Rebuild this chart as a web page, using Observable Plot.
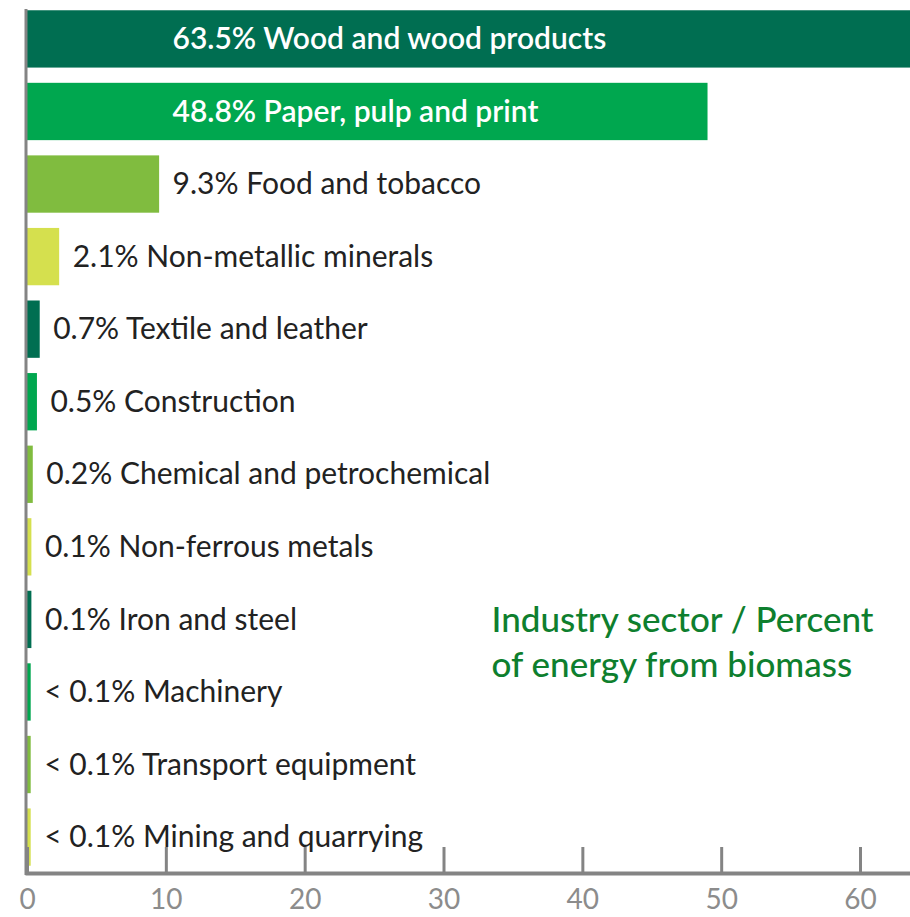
<!DOCTYPE html>
<html>
<head>
<meta charset="utf-8">
<script src="https://cdn.jsdelivr.net/npm/d3@7"></script>
<script src="https://cdn.jsdelivr.net/npm/@observablehq/plot@0.6"></script>
<style>
  html, body { margin: 0; padding: 0; background: #ffffff; }
  #chart svg { display: block; }
</style>
</head>
<body>
<div id="chart"></div>
<script>
const sectors = [
  "Wood and wood products",
  "Paper, pulp and print",
  "Food and tobacco",
  "Non-metallic minerals",
  "Textile and leather",
  "Construction",
  "Chemical and petrochemical",
  "Non-ferrous metals",
  "Iron and steel",
  "Machinery",
  "Transport equipment",
  "Mining and quarrying"
];
const shares = [63.5, 48.8, 9.3, 2.1, 0.7, 0.5, 0.2, 0.1, 0.1, 0.05, 0.05, 0.05];
const shareLabels = ["63.5%", "48.8%", "9.3%", "2.1%", "0.7%", "0.5%", "0.2%", "0.1%", "0.1%", "< 0.1%", "< 0.1%", "< 0.1%"];
const palette = ["#006E51", "#00A74F", "#80BC3F", "#D5E04E"];
const xTicks = [0, 10, 20, 30, 40, 50, 60];
const titleLines = ["Industry sector / Percent", "of energy from biomass"];

const data = sectors.map((s, i) => ({
  sector: s,
  value: shares[i],
  pct: shareLabels[i],
  color: palette[i % palette.length]
}));

const font = "Lato, 'Open Sans', Roboto, sans-serif";

const chart = Plot.plot({
  width: 910,
  height: 917,
  marginLeft: 27,
  marginRight: 0,
  marginTop: 3,
  marginBottom: 44,
  style: { fontFamily: font, background: "#ffffff" },
  x: { domain: [0, 63.6], label: null },
  y: { domain: sectors, paddingInner: 0.21, paddingOuter: 0.1, round: false, axis: null },
  marks: [
    Plot.barX(data, { y: "sector", x: "value", fill: d => d.color, insetRight: -3 }),
    Plot.frame({ anchor: "left", stroke: "#848484", strokeWidth: 3, dx: -1.5, insetTop: 7 }),
    Plot.frame({ anchor: "bottom", stroke: "#848484", strokeWidth: 4 }),
    Plot.axisX(xTicks, { tickSize: -26, color: "#848484", strokeWidth: 3, tickFormat: () => "", label: null }),
    Plot.axisX(xTicks, { tickSize: 0, tickPadding: 16, fontSize: 28, color: "#8c8c8c", label: null }),
    Plot.text(data.filter(d => d.value > 20), {
      y: "sector", x: 0, dx: 145,
      text: d => `${d.pct} ${d.sector}`,
      textAnchor: "start", fill: "#ffffff", fontSize: 30, fontWeight: 600
    }),
    Plot.text(data.filter(d => d.value <= 20), {
      y: "sector", x: "value", dx: 16,
      text: d => `${d.pct} ${d.sector}`,
      textAnchor: "start", fill: "#222222", fontSize: 30
    }),
    Plot.text([titleLines.join("\n")], {
      frameAnchor: "top-left", dx: 464, dy: 596,
      lineAnchor: "top", textAnchor: "start",
      fill: "#0E7F2E", fontSize: 35, lineHeight: 1.29, fontWeight: 500
    })
  ]
});
document.getElementById("chart").appendChild(chart);
</script>
</body>
</html>
